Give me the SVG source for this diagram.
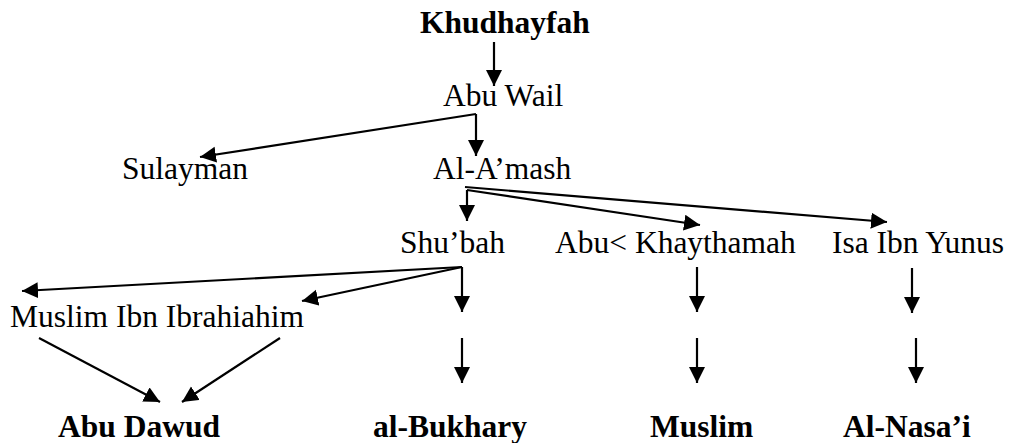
<svg xmlns="http://www.w3.org/2000/svg" width="1017" height="443" viewBox="0 0 1017 443">
<style>
text{font-family:"Liberation Serif","Times New Roman",serif;font-size:31.5px;fill:#000}
.b{font-weight:bold}
.c line{stroke:#000;stroke-width:2.2;marker-end:url(#ah)}
</style>
<defs>
<marker id="ah" markerUnits="userSpaceOnUse" markerWidth="18" markerHeight="18" refX="16" refY="8" orient="auto">
<path d="M0,0 L16,8 L0,16 z" fill="#000"/>
</marker>
</defs>
<rect width="1017" height="443" fill="#fff"/>
<g id="n-khudhayfah"><text class="b" x="420" y="33">Khudhayfah</text></g>
<g id="n-abuwail"><text x="443" y="106">Abu Wail</text></g>
<g id="n-sulayman"><text x="122" y="179">Sulayman</text></g>
<g id="n-amash"><text x="433" y="179">Al-A’mash</text></g>
<g id="n-shubah"><text x="400" y="253">Shu’bah</text></g>
<g id="n-khaythamah"><text x="555" y="253">Abu&lt; Khaythamah</text></g>
<g id="n-isa"><text x="832" y="253">Isa Ibn Yunus</text></g>
<g id="n-muslimibn"><text x="10" y="327">Muslim Ibn Ibrahiahim</text></g>
<g id="n-abudawud"><text class="b" x="58" y="437">Abu Dawud</text></g>
<g id="n-bukhary"><text class="b" x="373" y="437">al-Bukhary</text></g>
<g id="n-muslim"><text class="b" x="650" y="437">Muslim</text></g>
<g id="n-nasai"><text class="b" x="843" y="437">Al-Nasa’i</text></g>
<g class="c" id="connectors">
<line x1="494" y1="42" x2="494" y2="86"/>
<line x1="476" y1="114" x2="200" y2="157"/>
<line x1="476" y1="114" x2="476" y2="156"/>
<line x1="465" y1="187" x2="887" y2="222"/>
<line x1="467" y1="190" x2="700" y2="225"/>
<line x1="467" y1="190" x2="467" y2="221"/>
<line x1="462" y1="267" x2="22" y2="291"/>
<line x1="462" y1="267" x2="302" y2="301"/>
<line x1="462" y1="267" x2="462" y2="312"/>
<line x1="462" y1="338" x2="462" y2="383"/>
<line x1="39" y1="338" x2="160" y2="402"/>
<line x1="280" y1="338" x2="182" y2="402"/>
<line x1="697" y1="267" x2="697" y2="312"/>
<line x1="697" y1="338" x2="697" y2="383"/>
<line x1="912" y1="268" x2="912" y2="313"/>
<line x1="916" y1="338" x2="916" y2="383"/>
</g>
</svg>
